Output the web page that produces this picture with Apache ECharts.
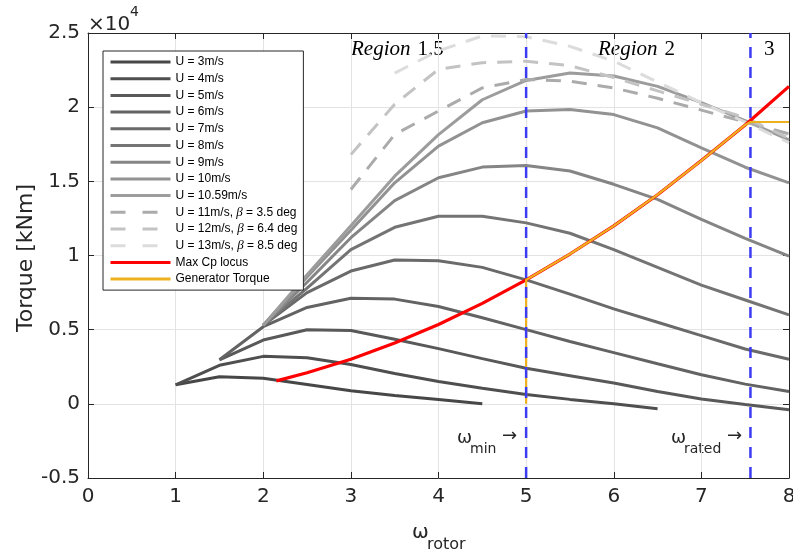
<!DOCTYPE html>
<html>
<head>
<meta charset="utf-8">
<script src="https://cdn.jsdelivr.net/npm/echarts@6/dist/echarts.min.js"></script>
<style>html,body{margin:0;padding:0;background:#fff}#c{width:793px;height:560px}</style>
</head>
<body>
<div id="c"></div>
<script>
// ---- data (torque in units of 1e4) ----
const omega = [1, 1.5, 2, 2.5, 3, 3.5, 4, 4.5, 5, 5.5, 6, 6.5, 7, 7.5, 8];
const N = null;
const torqueU3    = [0.128, 0.183, 0.172, 0.13, 0.088, 0.056, 0.03, 0.0, N, N, N, N, N, N, N];
const torqueU4    = [0.128, 0.26, 0.32, 0.31, 0.265, 0.205, 0.15, 0.105, 0.063, 0.03, 0.0, -0.033, N, N, N];
const torqueU5    = [N, 0.297, 0.43, 0.50, 0.494, 0.435, 0.372, 0.305, 0.24, 0.19, 0.14, 0.083, 0.032, -0.005, -0.04];
const torqueU6    = [N, 0.297, 0.52, 0.65, 0.712, 0.706, 0.656, 0.58, 0.50, 0.42, 0.345, 0.27, 0.196, 0.133, 0.083];
const torqueU7    = [N, N, 0.53, 0.75, 0.895, 0.97, 0.965, 0.92, 0.836, 0.74, 0.64, 0.55, 0.46, 0.37, 0.30];
const torqueU8    = [N, N, 0.53, 0.78, 1.04, 1.19, 1.265, 1.265, 1.22, 1.15, 1.04, 0.92, 0.80, 0.70, 0.60];
const torqueU9    = [N, N, 0.53, 0.82, 1.12, 1.37, 1.524, 1.596, 1.607, 1.57, 1.48, 1.378, 1.243, 1.115, 0.996];
const torqueU10   = [N, N, 0.53, 0.855, 1.17, 1.49, 1.737, 1.895, 1.974, 1.985, 1.95, 1.86, 1.726, 1.595, 1.49];
const torqueU1059 = [N, N, 0.53, 0.87, 1.2, 1.535, 1.815, 2.05, 2.18, 2.23, 2.21, 2.14, 2.03, 1.91, 1.78];
const torqueU11   = [N, N, N, N, 1.445, 1.816, 1.974, 2.13, 2.187, 2.175, 2.13, 2.06, 1.98, 1.90, 1.82];
const torqueU12   = [N, N, N, N, 1.68, 2.02, 2.255, 2.30, 2.31, 2.28, 2.20, 2.11, 2.02, 1.93, 1.79];
const torqueU13   = [N, N, N, N, N, 2.23, 2.38, 2.48, 2.475, 2.41, 2.31, 2.17, 2.03, 1.90, 1.76];

const maxCpOmega  = [2.15, 2.5, 3, 3.5, 4, 4.5, 5, 5.5, 6, 6.5, 7, 7.5, 8];
const maxCpTorque = [0.155, 0.21, 0.30, 0.41, 0.535, 0.677, 0.836, 1.01, 1.20, 1.41, 1.64, 1.88, 2.14];

const genOmega  = [5, 5, 5.5, 6, 6.5, 7, 7.5, 7.56, 8];
const genTorque = [0, 0.836, 1.01, 1.20, 1.41, 1.64, 1.88, 1.9, 1.9];

const regionOmega = [5, 7.56];          // omega_min, omega_rated
const torqueRange = [-0.5, 2.5];
const xTicks = [0, 1, 2, 3, 4, 5, 6, 7, 8];
const yTicks = [-0.5, 0, 0.5, 1, 1.5, 2, 2.5];

const curveNames = ['U = 3m/s','U = 4m/s','U = 5m/s','U = 6m/s','U = 7m/s','U = 8m/s','U = 9m/s','U = 10m/s','U = 10.59m/s',
  'U = 11m/s, β = 3.5 deg','U = 12m/s, β = 6.4 deg','U = 13m/s, β = 8.5 deg'];
const curveValues = [torqueU3, torqueU4, torqueU5, torqueU6, torqueU7, torqueU8, torqueU9, torqueU10, torqueU1059, torqueU11, torqueU12, torqueU13];

// ---- styles ----
const curveColors = ['#474747','#4f4f4f','#595959','#636363','#6a6a6a','#747474','#858585','#929292','#9c9c9c','#ababab','#c3c3c3','#dcdcdc'];
const dashed = [false,false,false,false,false,false,false,false,false,true,true,true];
const AX = '#262626';
const TF = 'DejaVu Sans';

const series = [];
curveValues.forEach((vals, k) => {
  const pts = [];
  vals.forEach((v, i) => { if (v !== null) pts.push([omega[i], v]); });
  series.push({
    name: curveNames[k], type: 'line', data: pts, symbol: 'none', smooth: false,
    lineStyle: { color: curveColors[k], width: 3, type: dashed[k] ? [15, 11] : 'solid', cap: 'butt' },
    itemStyle: { color: curveColors[k] }, emphasis: { disabled: true }, z: 2
  });
});
series.push({
  name: 'Max Cp locus', type: 'line', symbol: 'none',
  data: maxCpOmega.map((x, i) => [x, maxCpTorque[i]]),
  lineStyle: { color: '#ff0000', width: 3.2 }, itemStyle: { color: '#ff0000' }, emphasis: { disabled: true }, z: 3
});
series.push({
  name: 'Generator Torque', type: 'line', symbol: 'none',
  data: genOmega.map((x, i) => [x, genTorque[i]]),
  lineStyle: { color: '#edb120', width: 2.2 }, itemStyle: { color: '#edb120' }, emphasis: { disabled: true }, z: 4
});
regionOmega.forEach((w, i) => {
  series.push({
    name: 'region' + i, type: 'line', symbol: 'none',
    data: [[w, torqueRange[0]], [w, torqueRange[1]]],
    lineStyle: { color: '#3b3bf2', width: 2.5, type: [11, 9] }, emphasis: { disabled: true }, z: 5, silent: true
  });
});

const legendData = curveNames.map((n, k) => dashed[k]
  ? { name: n, lineStyle: { type: [15, 17], width: 3 } } : { name: n, lineStyle: { width: 3 } });
legendData.push({ name: 'Max Cp locus', lineStyle: { width: 3 } }, { name: 'Generator Torque', lineStyle: { width: 3 } });

const regionRich = {
  r: { fontFamily: 'Liberation Serif', fontStyle: 'italic', fontSize: 21 },
  n: { fontFamily: 'Liberation Serif', fontSize: 21, padding: [0, 0, 0, 7] }
};

const chart = echarts.init(document.getElementById('c'), null, { renderer: 'canvas' });
chart.setOption({
  animation: false,
  backgroundColor: '#ffffff',
  grid: { left: 88, right: 4, top: 33, bottom: 82, containLabel: false, outerBoundsMode: 'none' },
  xAxis: [{
    type: 'value', min: xTicks[0], max: xTicks[xTicks.length - 1], interval: 1, position: 'bottom',
    axisLine: { show: true, onZero: false, lineStyle: { color: AX, width: 1 } },
    axisTick: { show: true, inside: true, length: 6, lineStyle: { color: AX } },
    axisLabel: { color: AX, fontSize: 20, fontFamily: TF, margin: 9 },
    splitLine: { show: true, lineStyle: { color: '#e3e3e3', width: 1 } }
  }, {
    type: 'value', min: xTicks[0], max: xTicks[xTicks.length - 1], interval: 1, position: 'top',
    axisLine: { show: true, onZero: false, lineStyle: { color: AX, width: 1 } },
    axisTick: { show: true, inside: true, length: 6, lineStyle: { color: AX } },
    axisLabel: { show: false }, splitLine: { show: false }
  }],
  yAxis: [{
    type: 'value', min: yTicks[0], max: yTicks[yTicks.length - 1], interval: 0.5, position: 'left',
    axisLine: { show: true, onZero: false, lineStyle: { color: AX, width: 1 } },
    axisTick: { show: true, inside: true, length: 6, lineStyle: { color: AX } },
    axisLabel: { color: AX, fontSize: 20, fontFamily: TF, margin: 8 },
    splitLine: { show: true, lineStyle: { color: '#e3e3e3', width: 1 } }
  }, {
    type: 'value', min: yTicks[0], max: yTicks[yTicks.length - 1], interval: 0.5, position: 'right',
    axisLine: { show: true, onZero: false, lineStyle: { color: AX, width: 1 } },
    axisTick: { show: true, inside: true, length: 6, lineStyle: { color: AX } },
    axisLabel: { show: false }, splitLine: { show: false }
  }],
  legend: {
    orient: 'vertical', left: 103, top: 51, padding: [4, 6, 4, 6],
    itemWidth: 60, itemHeight: 14, itemGap: 2.7, itemStyle: { opacity: 0 },
    lineStyle: { width: 3 },
    backgroundColor: '#ffffff', borderColor: AX, borderWidth: 1, borderRadius: 0,
    selectedMode: false,
    textStyle: { fontSize: 12, fontFamily: 'Liberation Sans', color: '#000', lineHeight: 14,
      rich: { i: { fontStyle: 'italic', fontFamily: 'Liberation Serif', fontSize: 13, color: '#000', lineHeight: 14 } } },
    formatter: n => n.replace('β', '{i|β}'),
    data: legendData
  },
  graphic: [
    { type: 'text', style: { x: 88, y: 25, text: '×10', font: '20px "DejaVu Sans"', fill: AX, verticalAlign: 'middle' } },
    { type: 'text', style: { x: 130, y: 12, text: '4', font: '14px "DejaVu Sans"', fill: AX, verticalAlign: 'middle' } },
    { type: 'text', x: 26, y: 258, rotation: Math.PI / 2,
      style: { x: 0, y: 0, text: 'Torque [kNm]', font: '22px "DejaVu Sans"', fill: AX, align: 'center', verticalAlign: 'middle' } },
    { type: 'text', style: { x: 412, y: 533, text: 'ω', font: '20px "DejaVu Sans"', fill: AX, verticalAlign: 'middle' } },
    { type: 'text', style: { x: 427, y: 545, text: 'rotor', font: '16px "DejaVu Sans"', fill: AX, verticalAlign: 'middle' } },
    { type: 'text', style: { x: 351, y: 49, text: '{r|Region}{n|1.5}', fill: '#000', verticalAlign: 'middle', rich: regionRich } },
    { type: 'text', style: { x: 598, y: 49, text: '{r|Region}{n|2}', fill: '#000', verticalAlign: 'middle', rich: regionRich } },
    { type: 'text', style: { x: 764, y: 49, text: '3', font: '21px "Liberation Serif"', fill: '#000', verticalAlign: 'middle' } },
    { type: 'text', style: { x: 457, y: 438, text: 'ω', font: '18px "DejaVu Sans"', fill: AX, verticalAlign: 'middle' } },
    { type: 'text', style: { x: 470, y: 449, text: 'min', font: '14px "DejaVu Sans"', fill: AX, verticalAlign: 'middle' } },
    { type: 'text', style: { x: 502, y: 436, text: '→', font: '18px "DejaVu Sans"', fill: AX, verticalAlign: 'middle' } },
    { type: 'text', style: { x: 671, y: 438, text: 'ω', font: '18px "DejaVu Sans"', fill: AX, verticalAlign: 'middle' } },
    { type: 'text', style: { x: 684, y: 449, text: 'rated', font: '14px "DejaVu Sans"', fill: AX, verticalAlign: 'middle' } },
    { type: 'text', style: { x: 727, y: 436, text: '→', font: '18px "DejaVu Sans"', fill: AX, verticalAlign: 'middle' } }
  ],
  series: series
});
</script>
</body>
</html>
